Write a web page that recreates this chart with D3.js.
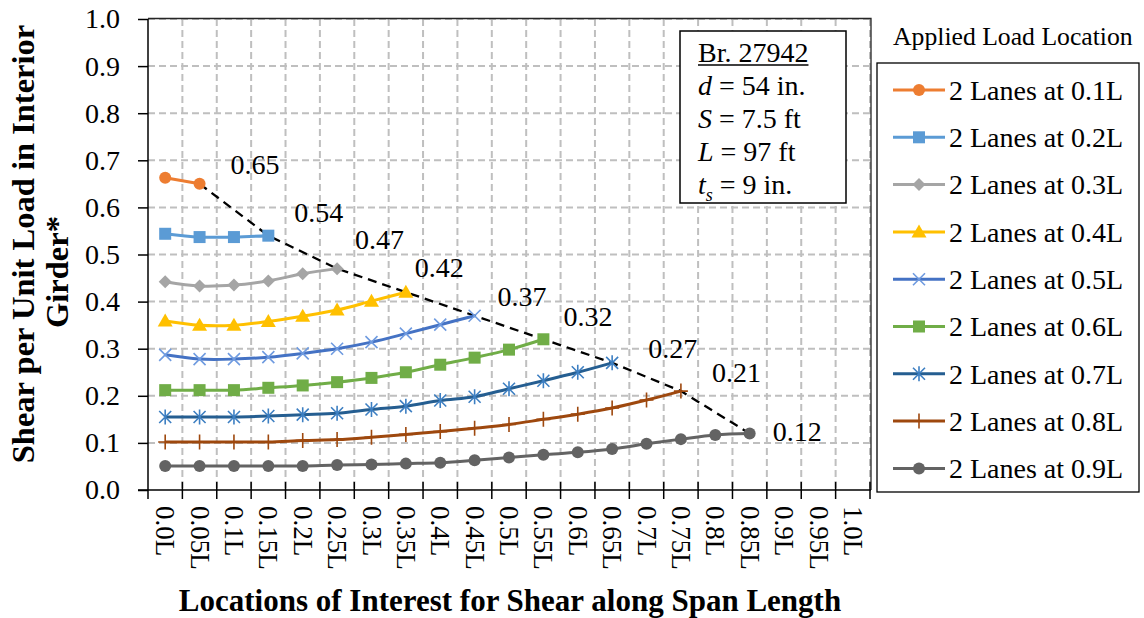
<!DOCTYPE html>
<html>
<head>
<meta charset="utf-8">
<script src="https://cdn.jsdelivr.net/npm/d3@7"></script>
<style>
  body { margin: 0; background: #fff; }
  svg { display: block; }
  svg text { font-family: "Liberation Serif", "Times New Roman", serif; }
</style>
</head>
<body>
<svg id="chart" width="1144" height="618" font-family="Liberation Serif, Times New Roman, serif"></svg>
<script>
// ---- data ----
const categories = ["0.0L", "0.05L", "0.1L", "0.15L", "0.2L", "0.25L", "0.3L", "0.35L", "0.4L", "0.45L",
  "0.5L", "0.55L", "0.6L", "0.65L", "0.7L", "0.75L", "0.8L", "0.85L", "0.9L", "0.95L", "1.0L"];
const yTicks = [0.0, 0.1, 0.2, 0.3, 0.4, 0.5, 0.6, 0.7, 0.8, 0.9, 1.0];
const seriesNames = ["2 Lanes at 0.1L", "2 Lanes at 0.2L", "2 Lanes at 0.3L", "2 Lanes at 0.4L",
  "2 Lanes at 0.5L", "2 Lanes at 0.6L", "2 Lanes at 0.7L", "2 Lanes at 0.8L", "2 Lanes at 0.9L"];

// shear per unit load, one value per location starting at 0.0L
const lanes01 = [0.663, 0.65];
const lanes02 = [0.544, 0.537, 0.537, 0.54];
const lanes03 = [0.442, 0.433, 0.435, 0.444, 0.459, 0.47];
const lanes04 = [0.359, 0.350, 0.350, 0.358, 0.369, 0.382, 0.401, 0.42];
const lanes05 = [0.287, 0.278, 0.278, 0.282, 0.290, 0.300, 0.314, 0.332, 0.351, 0.37];
const lanes06 = [0.212, 0.212, 0.212, 0.217, 0.222, 0.229, 0.238, 0.250, 0.266, 0.281, 0.298, 0.32];
const lanes07 = [0.155, 0.155, 0.155, 0.157, 0.160, 0.163, 0.171, 0.178, 0.190, 0.198, 0.215, 0.232, 0.250, 0.27];
const lanes08 = [0.102, 0.102, 0.102, 0.102, 0.105, 0.107, 0.112, 0.118, 0.124, 0.131, 0.139, 0.150, 0.161, 0.174, 0.191, 0.21];
const lanes09 = [0.051, 0.051, 0.051, 0.051, 0.051, 0.053, 0.054, 0.056, 0.058, 0.063, 0.069, 0.075, 0.080, 0.087, 0.098, 0.108, 0.117, 0.12];

const bridgeInfo = ["Br. 27942", "d = 54 in.", "S = 7.5 ft", "L = 97 ft", "ts = 9 in."];

// ---- styling ----
const FONT = "Liberation Serif, Times New Roman, serif";
const seriesValues = [lanes01, lanes02, lanes03, lanes04, lanes05, lanes06, lanes07, lanes08, lanes09];
const lineColors = ["#ED7D31", "#5B9BD5", "#A5A5A5", "#FFC000", "#4472C4", "#70AD47", "#255E91", "#9E480E", "#636363"];
const markerColors = ["#ED7D31", "#5B9BD5", "#A5A5A5", "#FFC000", "#6F9BE0", "#70AD47", "#3D7FC2", "#9E480E", "#636363"];
const markerKinds = ["circle", "square", "diamond", "triangle", "x", "square", "asterisk", "plus", "circle"];
// label offset from each curve's last point: [dx to text start, dy to baseline]
const labelNudge = [[31, -10], [26, -14], [18, -20], [9, -15], [23, -10], [20, -13], [36, -5], [31, -9], [23, 8]];

const svg = d3.select("#chart");
const plot = { left: 148, right: 870, top: 19, bottom: 490 };

const x = d3.scaleBand().domain(categories).range([plot.left, plot.right]).padding(0);
const xEdge = d3.scaleLinear().domain([0, categories.length]).range([plot.left, plot.right]);
const y = d3.scaleLinear().domain([0, 1]).range([plot.bottom, plot.top]);
const cx = i => x(categories[i]) + x.bandwidth() / 2;

// gridlines
const grid = svg.append("g").attr("stroke", "#BFBFBF").attr("stroke-width", 2).attr("stroke-dasharray", "7,4");
grid.selectAll("line.h").data(yTicks.slice(1)).join("line")
  .attr("x1", plot.left).attr("x2", plot.right)
  .attr("y1", d => y(d)).attr("y2", d => y(d));
grid.selectAll("line.v").data(d3.range(1, categories.length + 1)).join("line")
  .attr("x1", d => xEdge(d)).attr("x2", d => xEdge(d))
  .attr("y1", plot.top).attr("y2", plot.bottom);

// plot frame on top and right
svg.append("path")
  .attr("d", `M${plot.left},${plot.top - 0.5}H${plot.right + 1}V${plot.bottom}`)
  .attr("fill", "none").attr("stroke", "#262626").attr("stroke-width", 1.3);

// y axis
const yAxis = svg.append("g").attr("transform", `translate(${plot.left},0)`)
  .call(d3.axisLeft(y).tickValues(yTicks).tickFormat(d3.format(".1f")).tickSize(10).tickPadding(18));
yAxis.attr("font-family", FONT).attr("font-size", 28);
yAxis.select(".domain").attr("stroke", "#000").attr("stroke-width", 1.5).attr("d", `M0,${plot.top}V${plot.bottom + 9}`);
yAxis.selectAll(".tick line").attr("stroke", "#000").attr("stroke-width", 1.5);
yAxis.selectAll(".tick text").attr("font-size", 28).attr("fill", "#000").attr("font-family", FONT);

// x axis: line, boundary ticks crossing the axis, rotated labels centred in each band
const xAxis = svg.append("g").attr("transform", `translate(0,${plot.bottom})`);
xAxis.append("line").attr("x1", plot.left - 10).attr("x2", plot.right + 1)
  .attr("stroke", "#000").attr("stroke-width", 1.5);
xAxis.selectAll("line.tk").data(d3.range(1, categories.length + 1)).join("line")
  .attr("x1", d => xEdge(d)).attr("x2", d => xEdge(d)).attr("y1", -8).attr("y2", 9)
  .attr("stroke", "#000").attr("stroke-width", 1.5);
xAxis.selectAll("text").data(categories).join("text")
  .attr("transform", (d, i) => `translate(${cx(i)},16) rotate(90)`)
  .attr("dy", "0.33em").attr("font-size", 27).attr("fill", "#000").attr("font-family", FONT)
  .text(d => d);

// axis titles
svg.append("text").attr("x", (plot.left + plot.right) / 2 + 1).attr("y", 611)
  .attr("text-anchor", "middle").attr("font-weight", "bold").attr("font-size", 31).attr("font-family", FONT)
  .text("Locations of Interest for Shear along Span Length");
const yTitle = svg.append("g").attr("font-weight", "bold").attr("font-size", 32.5)
  .attr("text-anchor", "middle").attr("font-family", FONT);
yTitle.append("text").attr("transform", "translate(34,244) rotate(-90)").text("Shear per Unit Load in Interior");
yTitle.append("text").attr("transform", "translate(68,272) rotate(-90)").text("Girder*");

// envelope through the last point of every curve
const ends = seriesValues.map(v => ({ i: v.length - 1, v: v[v.length - 1] }));
svg.append("path")
  .datum(ends)
  .attr("d", d3.line().x(d => cx(d.i)).y(d => y(d.v)))
  .attr("fill", "none").attr("stroke", "#000").attr("stroke-width", 2.3).attr("stroke-dasharray", "9,6");

// marker drawing
function drawMarker(g, kind, color, px, py) {
  if (kind === "circle") {
    g.append("circle").attr("cx", px).attr("cy", py).attr("r", 6).attr("fill", color);
  } else if (kind === "square") {
    g.append("rect").attr("x", px - 6).attr("y", py - 6).attr("width", 12).attr("height", 12).attr("fill", color);
  } else if (kind === "diamond") {
    g.append("path").attr("d", `M${px},${py - 6.5}L${px + 6.5},${py}L${px},${py + 6.5}L${px - 6.5},${py}Z`).attr("fill", color);
  } else if (kind === "triangle") {
    g.append("path").attr("d", `M${px},${py - 7.5}L${px + 7.5},${py + 5.5}L${px - 7.5},${py + 5.5}Z`).attr("fill", color);
  } else if (kind === "x") {
    g.append("path").attr("d", `M${px - 6},${py - 6}L${px + 6},${py + 6}M${px - 6},${py + 6}L${px + 6},${py - 6}`)
      .attr("stroke", color).attr("stroke-width", 1.6).attr("fill", "none");
  } else if (kind === "asterisk") {
    g.append("path").attr("d", `M${px - 6},${py - 6}L${px + 6},${py + 6}M${px - 6},${py + 6}L${px + 6},${py - 6}M${px},${py - 7.5}L${px},${py + 7.5}`)
      .attr("stroke", color).attr("stroke-width", 1.6).attr("fill", "none");
  } else if (kind === "plus") {
    g.append("path").attr("d", `M${px},${py - 7.5}L${px},${py + 7.5}M${px - 7},${py}L${px + 7},${py}`)
      .attr("stroke", color).attr("stroke-width", 1.6).attr("fill", "none");
  }
}

// curves
const curve = d3.line().x((d, i) => cx(i)).y(d => y(d)).curve(d3.curveCardinal.tension(0));
seriesValues.forEach((vals, s) => {
  const g = svg.append("g");
  g.append("path").datum(vals).attr("d", curve)
    .attr("fill", "none").attr("stroke", lineColors[s]).attr("stroke-width", 3).attr("stroke-linejoin", "round");
  vals.forEach((v, i) => drawMarker(g, markerKinds[s], markerColors[s], cx(i), y(v)));
});

// end-value labels
svg.append("g").attr("font-family", FONT).selectAll("text").data(ends).join("text")
  .attr("x", (d, s) => cx(d.i) + labelNudge[s][0])
  .attr("y", (d, s) => y(d.v) + labelNudge[s][1])
  .attr("font-size", 28).attr("fill", "#000").attr("font-family", FONT)
  .text(d => d3.format(".2f")(d.v));

// bridge properties box
const info = svg.append("g");
info.append("rect").attr("x", 680).attr("y", 31).attr("width", 166).attr("height", 172)
  .attr("fill", "#fff").attr("stroke", "#000").attr("stroke-width", 1.5);
const infoText = info.append("g").attr("font-size", 28).attr("fill", "#000").attr("font-family", FONT);
const lineY = i => 62 + i * 33;
const t0 = infoText.append("text").attr("x", 698).attr("y", lineY(0)).text(bridgeInfo[0]);
const w0 = t0.node().getComputedTextLength();
info.append("line").attr("x1", 698).attr("x2", 698 + w0).attr("y1", lineY(0) + 3).attr("y2", lineY(0) + 3)
  .attr("stroke", "#000").attr("stroke-width", 1.5);
bridgeInfo.slice(1).forEach((s, k) => {
  const [sym, rest] = s.split(" = ");
  const t = infoText.append("text").attr("x", 698).attr("y", lineY(k + 1));
  if (sym.length === 2) {
    t.append("tspan").attr("font-style", "italic").text(sym[0]);
    t.append("tspan").attr("font-style", "italic").attr("font-size", 18).attr("dy", 7).text(sym[1]);
    t.append("tspan").attr("dy", -7).text(" = " + rest);
  } else {
    t.append("tspan").attr("font-style", "italic").text(sym);
    t.append("tspan").text(" = " + rest);
  }
});

// legend
const legend = svg.append("g").attr("font-family", FONT);
legend.append("text").attr("x", 893).attr("y", 45).attr("font-size", 25.7).attr("font-family", FONT)
  .text("Applied Load Location");
legend.append("rect").attr("x", 877).attr("y", 63).attr("width", 262).attr("height", 429)
  .attr("fill", "#fff").attr("stroke", "#000").attr("stroke-width", 1.3);
seriesNames.forEach((name, s) => {
  const ly = 90 + s * 47.3;
  const g = legend.append("g");
  g.append("line").attr("x1", 893).attr("x2", 945).attr("y1", ly).attr("y2", ly)
    .attr("stroke", lineColors[s]).attr("stroke-width", 3);
  drawMarker(g, markerKinds[s], markerColors[s], 919, ly);
  g.append("text").attr("x", 949).attr("y", ly).attr("dy", "0.35em").attr("font-size", 28)
    .attr("font-family", FONT).text(name);
});
</script>
</body>
</html>
